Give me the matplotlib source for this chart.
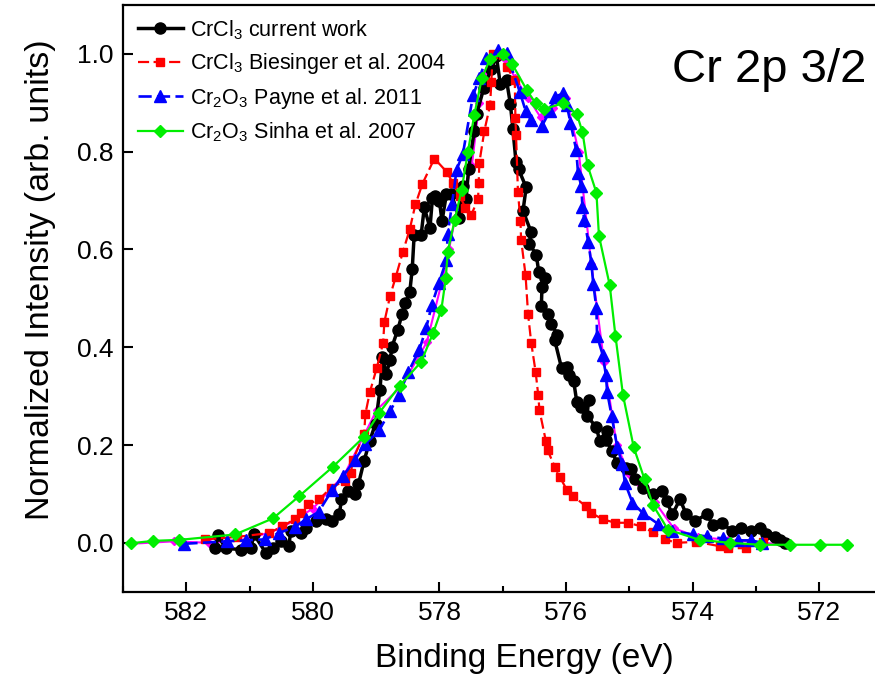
import matplotlib
matplotlib.use("Agg")
import matplotlib.pyplot as plt
from matplotlib.ticker import MultipleLocator, FormatStrFormatter

plt.rcParams['font.family'] = ['Liberation Sans', 'DejaVu Sans']
plt.rcParams['mathtext.default'] = 'regular'

# ---- data (binding energy eV, normalized intensity) ----
cur_x = [581.54, 581.50, 581.38, 581.14, 580.98, 580.93, 580.74, 580.63, 580.50, 580.38,
         580.35, 580.19, 580.11, 579.95, 579.79, 579.69, 579.58, 579.55, 579.45, 579.34,
         579.28, 579.19, 579.10, 579.01, 578.94, 578.90, 578.84, 578.78, 578.75, 578.66,
         578.59, 578.54, 578.47, 578.43, 578.40, 578.29, 578.24, 578.15, 578.11, 578.07,
         578.00, 577.96, 577.89, 577.81, 577.69, 577.63, 577.58, 577.54, 577.45, 577.41,
         577.30, 577.18, 577.10, 577.04, 576.94, 576.88, 576.84, 576.79, 576.75, 576.63,
         576.68, 576.55, 576.58, 576.47, 576.43, 576.34, 576.38, 576.39, 576.29, 576.23,
         576.14, 576.18, 576.07, 575.99, 575.95, 575.88, 575.83, 575.76, 575.64, 575.67,
         575.52, 575.47, 575.36, 575.37, 575.27, 575.20, 575.06, 574.98, 574.91, 574.78,
         574.62, 574.49, 574.41, 574.32, 574.20, 574.10, 573.97, 573.78, 573.68, 573.54,
         573.38, 573.23, 573.07, 572.94, 572.84, 572.70, 572.62, 572.54]
cur_y = [-0.011, 0.015, -0.011, -0.014, -0.011, 0.017, -0.021, -0.011, 0.003, -0.007,
         0.024, 0.020, 0.030, 0.044, 0.048, 0.044, 0.058, 0.089, 0.106, 0.099,
         0.120, 0.168, 0.209, 0.244, 0.313, 0.380, 0.346, 0.373, 0.401, 0.435,
         0.468, 0.490, 0.512, 0.560, 0.629, 0.629, 0.686, 0.644, 0.706, 0.709,
         0.699, 0.658, 0.713, 0.713, 0.665, 0.729, 0.703, 0.764, 0.843, 0.878,
         0.930, 0.970, 0.995, 0.939, 0.946, 0.898, 0.847, 0.778, 0.764, 0.727,
         0.679, 0.635, 0.612, 0.589, 0.553, 0.542, 0.523, 0.485, 0.468, 0.448,
         0.426, 0.415, 0.357, 0.360, 0.343, 0.331, 0.288, 0.277, 0.293, 0.260,
         0.236, 0.209, 0.229, 0.210, 0.188, 0.163, 0.154, 0.151, 0.130, 0.113,
         0.100, 0.105, 0.085, 0.058, 0.089, 0.058, 0.044, 0.058, 0.037, 0.041,
         0.024, 0.030, 0.024, 0.030, 0.018, 0.011, 0.005, 0.000]

bie_x = [581.70, 581.20, 580.69, 580.48, 580.29, 580.19, 580.07, 579.90, 579.71, 579.49,
         579.40, 579.37, 579.19, 579.17, 579.10, 578.99, 578.89, 578.87, 578.78, 578.69,
         578.58, 578.47, 578.38, 578.27, 578.08, 577.88, 577.79, 577.68, 577.59, 577.50,
         577.39, 577.38, 577.37, 577.29, 577.20, 577.18, 577.16, 576.99, 576.94, 576.81,
         576.80, 576.79, 576.76, 576.72, 576.71, 576.64, 576.60, 576.55, 576.48, 576.44,
         576.42, 576.32, 576.29, 576.18, 576.10, 575.99, 575.89, 575.69, 575.60, 575.42,
         575.22, 575.02, 574.82, 574.63, 574.44, 574.25, 573.94, 573.57, 573.44, 573.15,
         572.89]
bie_y = [0.007, 0.012, 0.020, 0.034, 0.048, 0.061, 0.079, 0.089, 0.113, 0.127,
         0.142, 0.169, 0.223, 0.264, 0.308, 0.358, 0.409, 0.452, 0.505, 0.544,
         0.594, 0.641, 0.692, 0.734, 0.786, 0.758, 0.736, 0.710, 0.685, 0.670,
         0.703, 0.736, 0.777, 0.843, 0.895, 0.943, 1.000, 0.998, 0.974, 0.946,
         0.869, 0.834, 0.718, 0.658, 0.620, 0.548, 0.468, 0.409, 0.349, 0.303,
         0.271, 0.209, 0.189, 0.156, 0.135, 0.109, 0.096, 0.075, 0.061, 0.048,
         0.041, 0.041, 0.034, 0.022, 0.007, 0.000, 0.002, -0.007, -0.011, -0.011,
         0.001]

pay_x = [582.03, 581.36, 581.06, 580.76, 580.54, 580.29, 580.11, 579.91, 579.69, 579.52,
         579.34, 579.17, 578.95, 578.78, 578.64, 578.49, 578.32, 578.21, 578.12, 578.01,
         577.89, 577.87, 577.80, 577.73, 577.63, 577.47, 577.37, 577.26, 577.08, 576.94,
         576.73, 576.64, 576.55, 576.38, 576.25, 576.18, 576.05, 575.99, 575.93, 575.84,
         575.81, 575.76, 575.74, 575.71, 575.65, 575.60, 575.57, 575.52, 575.51, 575.42,
         575.37, 575.35, 575.28, 575.19, 575.11, 575.07, 574.95, 574.78, 574.55, 574.32,
         573.99, 573.78, 573.52, 573.28, 573.07, 572.91]
pay_y = [-0.002, 0.003, 0.005, 0.007, 0.020, 0.032, 0.048, 0.063, 0.109, 0.137,
         0.169, 0.202, 0.231, 0.269, 0.303, 0.350, 0.394, 0.439, 0.487, 0.531,
         0.578, 0.631, 0.694, 0.763, 0.795, 0.915, 0.950, 0.991, 1.008, 1.001,
         0.922, 0.884, 0.864, 0.853, 0.884, 0.912, 0.919, 0.896, 0.859, 0.804,
         0.756, 0.730, 0.686, 0.660, 0.616, 0.572, 0.530, 0.480, 0.423, 0.384,
         0.343, 0.308, 0.260, 0.195, 0.161, 0.123, 0.082, 0.060, 0.039, 0.024,
         0.017, 0.013, 0.009, 0.005, 0.005, 0.000]

sin_x = [582.88, 582.52, 582.11, 581.23, 580.63, 580.22, 579.68, 579.19, 578.95, 578.63,
         578.29, 578.10, 577.97, 577.90, 577.87, 577.76, 577.65, 577.55, 577.45, 577.33,
         577.20, 577.00, 576.85, 576.62, 576.48, 576.35, 576.05, 575.83, 575.74, 575.66,
         575.52, 575.48, 575.31, 575.22, 575.10, 574.93, 574.76, 574.63, 574.39, 573.89,
         573.41, 572.94, 572.46, 571.99, 571.56]
sin_y = [-0.001, 0.004, 0.006, 0.017, 0.050, 0.095, 0.156, 0.217, 0.266, 0.321,
         0.370, 0.429, 0.477, 0.541, 0.595, 0.660, 0.722, 0.800, 0.875, 0.950,
         0.990, 1.000, 0.979, 0.926, 0.899, 0.887, 0.899, 0.877, 0.840, 0.772,
         0.716, 0.628, 0.527, 0.424, 0.302, 0.195, 0.130, 0.078, 0.027, 0.006,
         0.000, -0.004, -0.004, -0.004, -0.004]

# unlabelled magenta trace, mostly hidden under the others
ref_x = [582.87, 582.20, 581.64, 581.00, 580.50, 580.00, 579.50, 578.99, 578.60, 578.20,
         577.95, 577.85, 577.75, 577.62, 577.49, 577.37, 577.26, 577.13, 576.97, 576.80,
         576.60, 576.40, 576.20, 576.00, 575.80, 575.60, 575.40, 575.20, 575.00, 574.84,
         574.60, 574.30, 573.92, 573.44, 572.51]
ref_y = [-0.002, 0.003, 0.000, 0.008, 0.030, 0.070, 0.140, 0.272, 0.320, 0.410,
         0.540, 0.600, 0.665, 0.710, 0.770, 0.900, 0.963, 1.000, 0.990, 0.950,
         0.910, 0.870, 0.890, 0.910, 0.800, 0.570, 0.370, 0.200, 0.140, 0.123,
         0.084, 0.030, 0.012, 0.006, -0.004]

labels = ['CrCl$_3$ current work', 'CrCl$_3$ Biesinger et al. 2004',
          'Cr$_2$O$_3$ Payne et al. 2011', 'Cr$_2$O$_3$ Sinha et al. 2007']

fig = plt.figure(figsize=(8.75, 6.89), dpi=100)
ax = fig.add_axes([123/875, (689-591.7)/689, 759.5/875, 586.7/689])

ax.plot(ref_x, ref_y, color='#ff00ff', lw=1.5, marker='D', ms=4, zorder=1)
ax.plot(cur_x, cur_y, color='black', lw=2.5, marker='o', ms=8, label=labels[0], zorder=2)
ax.plot(bie_x, bie_y, color='#ff0000', lw=1.6, ls=(0, (5, 2)), marker='s', ms=6.3,
        label=labels[1], zorder=3)
ax.plot(pay_x, pay_y, color='#0000ff', lw=1.9, ls=(0, (5, 2)), marker='^', ms=8,
        label=labels[2], zorder=4)
ax.plot(sin_x, sin_y, color='#00ee00', lw=1.6, marker='D', ms=6.5, label=labels[3], zorder=5)

ax.set_xlim(583, 571)
ax.set_ylim(-0.1, 1.1)
ax.xaxis.set_major_locator(MultipleLocator(2))
ax.xaxis.set_minor_locator(MultipleLocator(1))
ax.yaxis.set_major_locator(MultipleLocator(0.2))
ax.yaxis.set_major_formatter(FormatStrFormatter('%.1f'))
ax.tick_params(axis='both', which='major', direction='in', length=7, width=1.5,
               labelsize=19, top=False, right=False)
ax.tick_params(axis='x', which='minor', direction='in', length=4, width=1.5, top=False)
ax.tick_params(axis='x', pad=7)
ax.tick_params(axis='y', pad=7)
for s in ax.spines.values():
    s.set_linewidth(1.6)

ax.set_xlabel('Binding Energy (eV)', fontsize=24)
ax.set_ylabel('Normalized Intensity (arb. units)', fontsize=24.5)
ax.xaxis.set_label_coords(0.528, -0.088)
ax.yaxis.set_label_coords(-0.088, 0.531)

fig.text(866/875, 1 - 70/689, 'Cr 2p 3/2', fontsize=34, ha='right', va='center')

leg = ax.legend(loc='upper left', bbox_to_anchor=(0.004, 0.998), frameon=False, fontsize=15.5,
                handlelength=2.1, handletextpad=0.3, labelspacing=0.45, borderaxespad=0.3,
                borderpad=0.25)

fig.savefig('out.png', dpi=100)
